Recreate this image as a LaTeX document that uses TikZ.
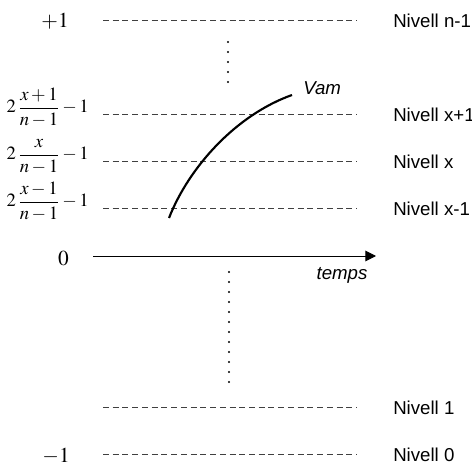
\documentclass[tikz,border=0pt]{standalone}
\usepackage{mathptmx}
\usepackage{fontspec}
\newfontfamily\arialfont{Liberation Sans}
\usetikzlibrary{arrows.meta}

\begin{document}
\begin{tikzpicture}[x=0.75pt, y=-0.75pt,
  level/.style={draw=black!75, line width=0.6pt, dash pattern=on 4.5pt off 2.8pt},
  dotsline/.style={draw=black, line width=1.6pt, dash pattern=on 0pt off 7.5pt, line cap=round},
  axisarrow/.style={-{Triangle[length=8pt, width=8pt]}, line width=0.75pt},
  vamcurve/.style={line width=1.6pt},
  valuelab/.style={anchor=base east, inner sep=0pt, font=\fontsize{16}{19}\selectfont},
  fraclab/.style={anchor=base east, inner sep=0pt, font=\fontsize{14}{17}\selectfont},
  nivell/.style={anchor=west, inner sep=0pt, font=\arialfont\fontsize{14}{17}\selectfont},
  axislab/.style={inner sep=0pt, font=\arialfont\itshape\fontsize{14}{17}\selectfont}
]
\useasboundingbox (0,0) rectangle (472,467);

% Level ends
\coordinate (ntopW) at (103,20);  \coordinate (ntopE) at (357,20);
\coordinate (nupW) at (103,114);  \coordinate (nupE) at (357,114);
\coordinate (nxW) at (103,161);   \coordinate (nxE) at (357,161);
\coordinate (ndnW) at (103,208);  \coordinate (ndnE) at (357,208);
\coordinate (noneW) at (103,407); \coordinate (noneE) at (357,407);
\coordinate (nzeroW) at (103,454); \coordinate (nzeroE) at (357,454);

% Levels
\draw[level] (ntopW) -- (ntopE);
\draw[level] (nupW) -- (nupE);
\draw[level] (nxW) -- (nxE);
\draw[level] (ndnW) -- (ndnE);
\draw[level] (noneW) -- (noneE);
\draw[level] (nzeroW) -- (nzeroE);

% Level names
\node[nivell] (lbtop) at (393,21) {Nivell n-1};
\node[nivell] (lbup) at (393,115) {Nivell x+1};
\node[nivell] (lbx) at (393,162) {Nivell x};
\node[nivell] (lbdn) at (393,209) {Nivell x-1};
\node[nivell] (lbone) at (393,408) {Nivell 1};
\node[nivell] (lbzero) at (393,455) {Nivell 0};

% Values
\node[valuelab] (vtop) at (69,28) {$+1$};
\node[fraclab] (vup) at (89,113) {$\displaystyle 2\,\frac{x+1}{n-1}-1$};
\node[fraclab] (vx) at (89,160) {$\displaystyle 2\,\frac{x}{n-1}-1$};
\node[fraclab] (vdn) at (89,207) {$\displaystyle 2\,\frac{x-1}{n-1}-1$};
\node[valuelab] (vzero) at (69,266) {$0$};
\node[valuelab] (vbot) at (70,462) {$-1$};

% Time axis
\coordinate (tstart) at (93,256);
\coordinate (tend) at (376,256);
\draw[axisarrow] (tstart) -- (tend);
\node[axislab] (temps) at (342,275) {temps};

% Dotted gaps
\coordinate (dtopA) at (228,42);  \coordinate (dtopB) at (228,83);
\coordinate (dbotA) at (229,272); \coordinate (dbotB) at (229,383);
\draw[dotsline] (dtopA) -- (dtopB);
\draw[dotsline] (dbotA) -- (dbotB);

% Signal
\coordinate (vamA) at (169,218);
\coordinate (vamB) at (292,95);
\draw[vamcurve] (vamA) .. controls (189,167) and (236,115) .. (vamB);
\node[axislab, anchor=west] (vam) at (303,88) {Vam};

\end{tikzpicture}
\end{document}
